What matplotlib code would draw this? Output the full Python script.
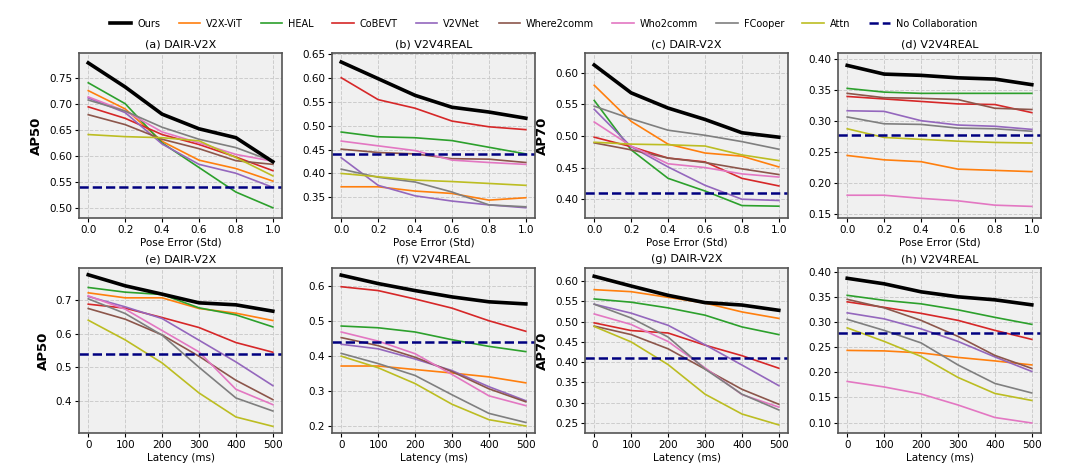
import matplotlib
matplotlib.use("Agg")
from matplotlib import pyplot as plt

methods = ["Ours", "V2X-ViT", "HEAL", "CoBEVT", "V2VNet", "Where2comm", "Who2comm", "FCooper", "Attn"]
colors = ["black", "tab:orange", "tab:green", "tab:red", "tab:purple", "tab:brown", "tab:pink", "tab:gray", "tab:olive"]

pose_x = [0.0, 0.2, 0.4, 0.6, 0.8, 1.0]
lat_x = [0, 100, 200, 300, 400, 500]

# (a) DAIR-V2X AP50 vs pose error
a_vals = {
    "Ours":       [0.778, 0.732, 0.680, 0.652, 0.635, 0.589],
    "V2X-ViT":    [0.725, 0.690, 0.628, 0.592, 0.576, 0.552],
    "HEAL":       [0.740, 0.700, 0.625, 0.578, 0.531, 0.501],
    "CoBEVT":     [0.694, 0.672, 0.641, 0.622, 0.598, 0.572],
    "V2VNet":     [0.711, 0.683, 0.623, 0.584, 0.567, 0.540],
    "Where2comm": [0.679, 0.660, 0.632, 0.614, 0.591, 0.584],
    "Who2comm":   [0.713, 0.686, 0.646, 0.625, 0.603, 0.590],
    "FCooper":    [0.707, 0.686, 0.655, 0.632, 0.616, 0.590],
    "Attn":       [0.641, 0.637, 0.635, 0.629, 0.597, 0.562],
}
# (b) V2V4REAL AP50 vs pose error
b_vals = {
    "Ours":       [0.634, 0.599, 0.564, 0.539, 0.529, 0.516],
    "V2X-ViT":    [0.372, 0.372, 0.363, 0.358, 0.344, 0.349],
    "HEAL":       [0.487, 0.477, 0.475, 0.469, 0.455, 0.441],
    "CoBEVT":     [0.601, 0.555, 0.537, 0.510, 0.498, 0.492],
    "V2VNet":     [0.433, 0.375, 0.353, 0.342, 0.334, 0.328],
    "Where2comm": [0.451, 0.444, 0.441, 0.431, 0.430, 0.423],
    "Who2comm":   [0.468, 0.458, 0.448, 0.428, 0.423, 0.419],
    "FCooper":    [0.409, 0.392, 0.382, 0.361, 0.334, 0.330],
    "Attn":       [0.400, 0.393, 0.386, 0.383, 0.379, 0.375],
}
# (c) DAIR-V2X AP70 vs pose error
c_vals = {
    "Ours":       [0.612, 0.568, 0.544, 0.526, 0.505, 0.498],
    "V2X-ViT":    [0.580, 0.523, 0.487, 0.473, 0.468, 0.451],
    "HEAL":       [0.556, 0.478, 0.433, 0.413, 0.390, 0.389],
    "CoBEVT":     [0.498, 0.483, 0.465, 0.459, 0.433, 0.421],
    "V2VNet":     [0.542, 0.483, 0.451, 0.422, 0.400, 0.398],
    "Where2comm": [0.489, 0.478, 0.465, 0.458, 0.448, 0.439],
    "Who2comm":   [0.522, 0.484, 0.456, 0.450, 0.440, 0.435],
    "FCooper":    [0.547, 0.527, 0.509, 0.501, 0.491, 0.479],
    "Attn":       [0.490, 0.487, 0.486, 0.484, 0.470, 0.461],
}
# (d) V2V4REAL AP70 vs pose error
d_vals = {
    "Ours":       [0.390, 0.376, 0.374, 0.370, 0.368, 0.359],
    "V2X-ViT":    [0.245, 0.238, 0.235, 0.223, 0.221, 0.219],
    "HEAL":       [0.353, 0.347, 0.345, 0.345, 0.345, 0.345],
    "CoBEVT":     [0.340, 0.336, 0.332, 0.328, 0.327, 0.314],
    "V2VNet":     [0.317, 0.316, 0.301, 0.294, 0.292, 0.287],
    "Where2comm": [0.345, 0.338, 0.337, 0.335, 0.321, 0.319],
    "Who2comm":   [0.181, 0.181, 0.176, 0.172, 0.165, 0.163],
    "FCooper":    [0.307, 0.296, 0.295, 0.289, 0.288, 0.284],
    "Attn":       [0.288, 0.274, 0.271, 0.268, 0.266, 0.265],
}
# (e) DAIR-V2X AP50 vs latency
e_vals = {
    "Ours":       [0.777, 0.744, 0.719, 0.693, 0.687, 0.668],
    "V2X-ViT":    [0.723, 0.708, 0.708, 0.676, 0.662, 0.640],
    "HEAL":       [0.739, 0.725, 0.718, 0.678, 0.657, 0.621],
    "CoBEVT":     [0.689, 0.677, 0.649, 0.619, 0.574, 0.545],
    "V2VNet":     [0.712, 0.681, 0.646, 0.581, 0.516, 0.445],
    "Where2comm": [0.676, 0.644, 0.597, 0.533, 0.461, 0.403],
    "Who2comm":   [0.714, 0.674, 0.610, 0.546, 0.434, 0.388],
    "FCooper":    [0.705, 0.661, 0.596, 0.500, 0.408, 0.369],
    "Attn":       [0.641, 0.582, 0.513, 0.423, 0.351, 0.323],
}
# (f) V2V4REAL AP50 vs latency
f_vals = {
    "Ours":       [0.630, 0.606, 0.586, 0.568, 0.554, 0.548],
    "V2X-ViT":    [0.371, 0.371, 0.361, 0.351, 0.340, 0.323],
    "HEAL":       [0.485, 0.480, 0.468, 0.446, 0.427, 0.412],
    "CoBEVT":     [0.597, 0.586, 0.562, 0.536, 0.500, 0.470],
    "V2VNet":     [0.433, 0.420, 0.391, 0.358, 0.312, 0.272],
    "Where2comm": [0.452, 0.429, 0.396, 0.355, 0.306, 0.269],
    "Who2comm":   [0.468, 0.442, 0.406, 0.347, 0.286, 0.258],
    "FCooper":    [0.407, 0.378, 0.344, 0.289, 0.236, 0.210],
    "Attn":       [0.399, 0.366, 0.321, 0.262, 0.218, 0.200],
}
# (g) DAIR-V2X AP70 vs latency
g_vals = {
    "Ours":       [0.612, 0.588, 0.565, 0.547, 0.541, 0.528],
    "V2X-ViT":    [0.579, 0.574, 0.560, 0.546, 0.524, 0.508],
    "HEAL":       [0.556, 0.548, 0.534, 0.516, 0.487, 0.468],
    "CoBEVT":     [0.497, 0.478, 0.472, 0.442, 0.416, 0.385],
    "V2VNet":     [0.543, 0.521, 0.491, 0.443, 0.393, 0.342],
    "Where2comm": [0.489, 0.468, 0.433, 0.383, 0.333, 0.296],
    "Who2comm":   [0.519, 0.493, 0.451, 0.386, 0.320, 0.289],
    "FCooper":    [0.543, 0.509, 0.462, 0.383, 0.321, 0.282],
    "Attn":       [0.488, 0.450, 0.394, 0.321, 0.272, 0.245],
}
# (h) V2V4REAL AP70 vs latency
h_vals = {
    "Ours":       [0.388, 0.377, 0.361, 0.351, 0.345, 0.335],
    "V2X-ViT":    [0.244, 0.243, 0.239, 0.230, 0.223, 0.215],
    "HEAL":       [0.354, 0.344, 0.337, 0.325, 0.310, 0.296],
    "CoBEVT":     [0.341, 0.330, 0.318, 0.304, 0.284, 0.266],
    "V2VNet":     [0.319, 0.307, 0.287, 0.262, 0.231, 0.202],
    "Where2comm": [0.346, 0.329, 0.304, 0.272, 0.234, 0.208],
    "Who2comm":   [0.182, 0.171, 0.157, 0.135, 0.110, 0.099],
    "FCooper":    [0.306, 0.284, 0.259, 0.215, 0.178, 0.159],
    "Attn":       [0.289, 0.262, 0.232, 0.190, 0.158, 0.144],
}

no_collab = {"a": 0.540, "b": 0.440, "c": 0.410, "d": 0.278,
             "e": 0.540, "f": 0.440, "g": 0.410, "h": 0.278}

panels = [
    ("a", "(a) DAIR-V2X", a_vals, pose_x, "AP50", (0.481, 0.797), [0.50, 0.55, 0.60, 0.65, 0.70, 0.75]),
    ("b", "(b) V2V4REAL", b_vals, pose_x, None, (0.306, 0.653), [0.35, 0.40, 0.45, 0.50, 0.55, 0.60, 0.65]),
    ("c", "(c) DAIR-V2X", c_vals, pose_x, "AP70", (0.370, 0.631), [0.40, 0.45, 0.50, 0.55, 0.60]),
    ("d", "(d) V2V4REAL", d_vals, pose_x, None, (0.144, 0.410), [0.15, 0.20, 0.25, 0.30, 0.35, 0.40]),
    ("e", "(e) DAIR-V2X", e_vals, lat_x, "AP50", (0.303, 0.798), [0.4, 0.5, 0.6, 0.7]),
    ("f", "(f) V2V4REAL", f_vals, lat_x, None, (0.180, 0.651), [0.2, 0.3, 0.4, 0.5, 0.6]),
    ("g", "(g) DAIR-V2X", g_vals, lat_x, "AP70", (0.225, 0.633), [0.25, 0.30, 0.35, 0.40, 0.45, 0.50, 0.55, 0.60]),
    ("h", "(h) V2V4REAL", h_vals, lat_x, None, (0.079, 0.409), [0.10, 0.15, 0.20, 0.25, 0.30, 0.35, 0.40]),
]

fig, axes = plt.subplots(2, 4, figsize=(10.87, 4.76), dpi=100)
fig.subplots_adjust(left=0.0727, right=0.9577, top=0.8887, bottom=0.0903, wspace=0.246, hspace=0.30)

for ax, (key, title, vals, xs, ylab, ylim, yt) in zip(axes.flat, panels):
    ax.set_facecolor("#f0f0f0")
    ax.grid(True, linestyle="--", color="#cccccc", linewidth=0.7)
    ax.set_axisbelow(True)
    for m, c in zip(methods, colors):
        lw = 2.6 if m == "Ours" else 1.2
        ax.plot(xs, vals[m], color=c, linewidth=lw, label=m, zorder=3 if m == "Ours" else 2)
    ax.axhline(no_collab[key], color="navy", linestyle="--", linewidth=1.8, label="No Collaboration", zorder=2)
    ax.set_title(title, fontsize=8, pad=4)
    ax.set_ylim(*ylim)
    ax.set_yticks(yt)
    if xs is pose_x:
        ax.set_xticks(pose_x)
        ax.set_xticklabels(["0.0", "0.2", "0.4", "0.6", "0.8", "1.0"])
        ax.set_xlabel("Pose Error (Std)", fontsize=7.5, labelpad=2)
    else:
        ax.set_xticks(lat_x)
        ax.set_xlabel("Latency (ms)", fontsize=7.5, labelpad=2)
    if ylab:
        ax.set_ylabel(ylab, fontsize=9.5, fontweight="bold")
    ax.tick_params(labelsize=7.5, length=3, width=0.8, pad=2)
    for s in ax.spines.values():
        s.set_color("#555555")
        s.set_linewidth(1.2)

handles, labels = axes[0, 0].get_legend_handles_labels()
fig.legend(handles, labels, loc="center", bbox_to_anchor=(0.5, 0.95), ncol=10, frameon=False,
           fontsize=7, handlelength=2.2, handletextpad=0.6, columnspacing=1.9)

plt.savefig("out.png", dpi=100)
